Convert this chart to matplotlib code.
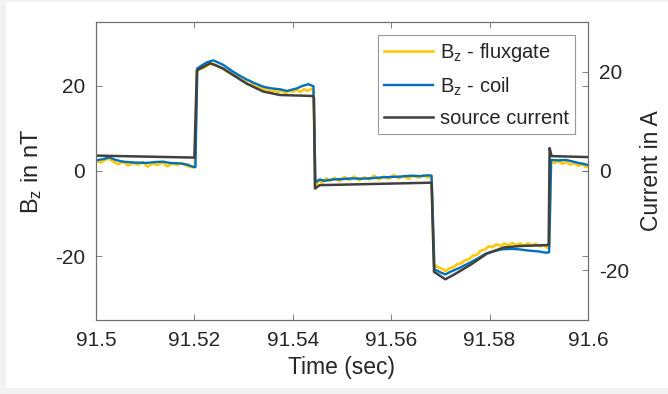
import matplotlib.pyplot as plt
from matplotlib.patches import Rectangle

plt.rcParams['font.family'] = ['Liberation Sans', 'DejaVu Sans']
plt.rcParams['mathtext.fontset'] = 'custom'
plt.rcParams['mathtext.rm'] = 'Liberation Sans'
plt.rcParams['mathtext.it'] = 'Liberation Sans'
plt.rcParams['axes.unicode_minus'] = False

# B_z from the fluxgate (nT), noisy trace
t_flux = [91.5000, 91.5010, 91.5020, 91.5027, 91.5035, 91.5045, 91.5055, 91.5065,
          91.5075, 91.5085, 91.5095, 91.5105, 91.5115, 91.5125, 91.5135, 91.5145,
          91.5155, 91.5165, 91.5175, 91.5185, 91.5195, 91.5201,
          91.5205, 91.5212, 91.5220, 91.5228, 91.5235, 91.5242, 91.5250, 91.5258,
          91.5265, 91.5273, 91.5280, 91.5288, 91.5295, 91.5303, 91.5310, 91.5318,
          91.5325, 91.5333, 91.5340, 91.5348, 91.5355, 91.5363, 91.5370, 91.5378,
          91.5385, 91.5393, 91.5400, 91.5408, 91.5415, 91.5423, 91.5430, 91.5438,
          91.5442,
          91.5446, 91.5452, 91.5460, 91.5468, 91.5476, 91.5485, 91.5495, 91.5505,
          91.5515, 91.5525, 91.5535, 91.5545, 91.5555, 91.5565, 91.5575, 91.5585,
          91.5595, 91.5605, 91.5615, 91.5625, 91.5635, 91.5645, 91.5655, 91.5665,
          91.5675, 91.5682,
          91.5687, 91.5695, 91.5703, 91.5711, 91.5718, 91.5726, 91.5734, 91.5742,
          91.5750, 91.5758, 91.5766, 91.5774, 91.5782, 91.5790, 91.5798, 91.5806,
          91.5814, 91.5822, 91.5830, 91.5838, 91.5846, 91.5854, 91.5862, 91.5870,
          91.5878, 91.5886, 91.5894, 91.5902, 91.5910, 91.5918, 91.5921,
          91.5925, 91.5932, 91.5940, 91.5948, 91.5956, 91.5964, 91.5972, 91.5980,
          91.5988, 91.5996, 91.6000]
b_flux = [2.4, 2.0, 2.7, 2.9, 2.2, 1.6, 2.2, 1.3,
          1.9, 1.5, 2.1, 1.0, 1.8, 1.4, 2.0, 1.1,
          1.8, 1.4, 1.9, 1.2, 0.9, 0.9,
          23.4, 24.0, 24.3, 24.9, 25.2, 25.0, 24.5, 24.1,
          23.4, 23.0, 22.5, 22.2, 21.4, 21.1, 20.3, 20.5,
          19.7, 19.8, 19.1, 19.3, 18.6, 19.0, 18.5, 18.9,
          18.3, 18.8, 18.6, 19.1, 18.6, 19.2, 18.8, 19.3,
          18.9,
          -4.2, -2.1, -2.8, -1.7, -2.3, -1.6, -2.4, -1.4,
          -2.1, -1.3, -2.2, -1.5, -2.0, -1.1, -2.0, -1.3,
          -1.8, -1.0, -1.7, -1.2, -1.8, -1.1, -1.6, -1.0,
          -1.5, -1.2,
          -22.0, -22.6, -23.0, -23.5, -22.9, -22.6, -21.9, -21.7,
          -21.0, -20.7, -19.9, -19.7, -18.7, -18.5, -17.7, -17.9,
          -17.2, -17.6, -17.0, -17.5, -16.9, -17.4, -17.0, -17.5,
          -17.0, -17.5, -17.1, -17.7, -17.4, -18.1, -18.0,
          2.5, 1.9, 2.4, 1.7, 2.1, 1.5, 1.9, 1.2,
          1.6, 0.9, 1.2]

# B_z from the coil (nT)
t_coil = [91.5000, 91.5015, 91.5027, 91.5040, 91.5054, 91.5075, 91.5102, 91.5120,
          91.5136, 91.5150, 91.5169, 91.5185, 91.5197, 91.5202,
          91.5206, 91.5215, 91.5225, 91.5238, 91.5248, 91.5259, 91.5270, 91.5279,
          91.5292, 91.5306, 91.5323, 91.5340, 91.5357, 91.5374, 91.5388, 91.5398,
          91.5408, 91.5420, 91.5432, 91.5442,
          91.5446, 91.5455, 91.5465, 91.5480, 91.5500, 91.5520, 91.5540, 91.5560,
          91.5580, 91.5600, 91.5620, 91.5640, 91.5660, 91.5675, 91.5682,
          91.5688, 91.5700, 91.5710, 91.5720, 91.5740, 91.5757, 91.5775, 91.5791,
          91.5810, 91.5825, 91.5845, 91.5860, 91.5880, 91.5900, 91.5915, 91.5921,
          91.5925, 91.5940, 91.5955, 91.5970, 91.5980, 91.5990, 91.6000]
b_coil = [2.5, 2.8, 3.2, 2.6, 2.2, 2.0, 1.9, 2.1,
          2.2, 1.9, 1.8, 1.5, 1.0, 0.9,
          24.1, 24.8, 25.5, 26.0, 25.5, 24.9, 24.0, 23.3,
          22.4, 21.5, 20.6, 19.8, 19.4, 19.2, 18.8, 19.1,
          19.4, 20.0, 20.4, 19.9,
          -2.6, -2.0, -2.3, -2.0, -1.9, -1.75, -1.8, -1.7,
          -1.5, -1.4, -1.3, -1.1, -1.2, -1.0, -1.1,
          -23.1, -23.8, -24.3, -23.7, -22.7, -21.7, -20.6, -19.5,
          -18.8, -18.4, -18.3, -18.4, -18.7, -18.9, -19.2, -19.1,
          2.6, 2.5, 2.6, 2.2, 1.9, 1.7, 1.4]

# source current (A), right axis
t_src = [91.5000, 91.5200, 91.5205, 91.5215, 91.5232, 91.5245, 91.5259, 91.5279,
         91.5306, 91.5340, 91.5374, 91.5410, 91.5440, 91.5443,
         91.5445, 91.5455, 91.5682, 91.5687, 91.5710, 91.5727, 91.5761, 91.5795,
         91.5829, 91.5863, 91.5920, 91.5922, 91.5926, 91.6000]
i_src = [3.1, 2.7, 20.3, 20.8, 21.7, 21.2, 20.6, 19.3,
         17.6, 16.0, 15.3, 15.2, 15.1, 14.8,
         -3.5, -2.85, -2.35, -20.3, -21.8, -20.9, -18.9, -16.6,
         -15.4, -15.1, -14.9, 4.6, 3.0, 2.8]

x_ticks = [91.5, 91.52, 91.54, 91.56, 91.58, 91.6]
x_ticklabels = ['91.5', '91.52', '91.54', '91.56', '91.58', '91.6']
left_ticks = [-20, 0, 20]
right_ticks = [-20, 0, 20]

c_flux = '#FFC60A'
c_coil = '#0072BD'
c_src = '#404040'
c_axis = '#262626'
c_spine = '#6e6e6e'

fig = plt.figure(figsize=(6.68, 3.94), dpi=100, facecolor='#f2f2f2')
fig.patches.append(Rectangle((6 / 668, 6 / 394), 662 / 668, 386 / 394,
                             transform=fig.transFigure, facecolor='white',
                             edgecolor='none', zorder=-10))
ax = fig.add_axes([96 / 668, 74 / 394, 492 / 668, 298 / 394])
ax2 = ax.twinx()

l1, = ax.plot(t_flux, b_flux, color=c_flux, lw=1.9, label='B$_\\mathregular{z}$ - fluxgate')
l2, = ax.plot(t_coil, b_coil, color=c_coil, lw=1.7, label='B$_\\mathregular{z}$ - coil')
l3, = ax2.plot(t_src, i_src, color=c_src, lw=1.8, label='source current')

ax.set_xlim(91.5, 91.6)
ax.set_ylim(-35, 35)
ax2.set_ylim(-30, 30)
ax.set_xticks(x_ticks)
ax.set_xticklabels(x_ticklabels)
ax.set_yticks(left_ticks)
ax2.set_yticks(right_ticks)

ax.tick_params(axis='both', direction='in', length=4, width=0.6, colors=c_spine,
               labelcolor=c_axis, labelsize=15, pad=8, top=True, right=True)
ax2.tick_params(axis='y', direction='in', length=4, width=0.6, colors=c_spine,
                labelcolor=c_axis, labelsize=15, pad=8)
for a in (ax, ax2):
    for s in a.spines.values():
        s.set_color(c_spine)
        s.set_linewidth(0.8)

ax.set_xlabel('Time (sec)', fontsize=16.5, color=c_axis, labelpad=4)
ax.set_ylabel('B$_\\mathregular{z}$ in nT', fontsize=17, color=c_axis, labelpad=8)
ax2.set_ylabel('Current in A', fontsize=16.5, color=c_axis, labelpad=8)

leg = ax2.legend(handles=[l1, l2, l3], loc='upper right', fontsize=14.5,
                 frameon=True, fancybox=False, framealpha=1, edgecolor='#999999',
                 handlelength=2.4, handletextpad=0.35, labelspacing=0.55,
                 borderaxespad=0.65, borderpad=0.3)
leg.get_frame().set_linewidth(0.8)
for txt in leg.get_texts():
    txt.set_color(c_axis)

fig.savefig('out.png', dpi=100, facecolor=fig.get_facecolor())
